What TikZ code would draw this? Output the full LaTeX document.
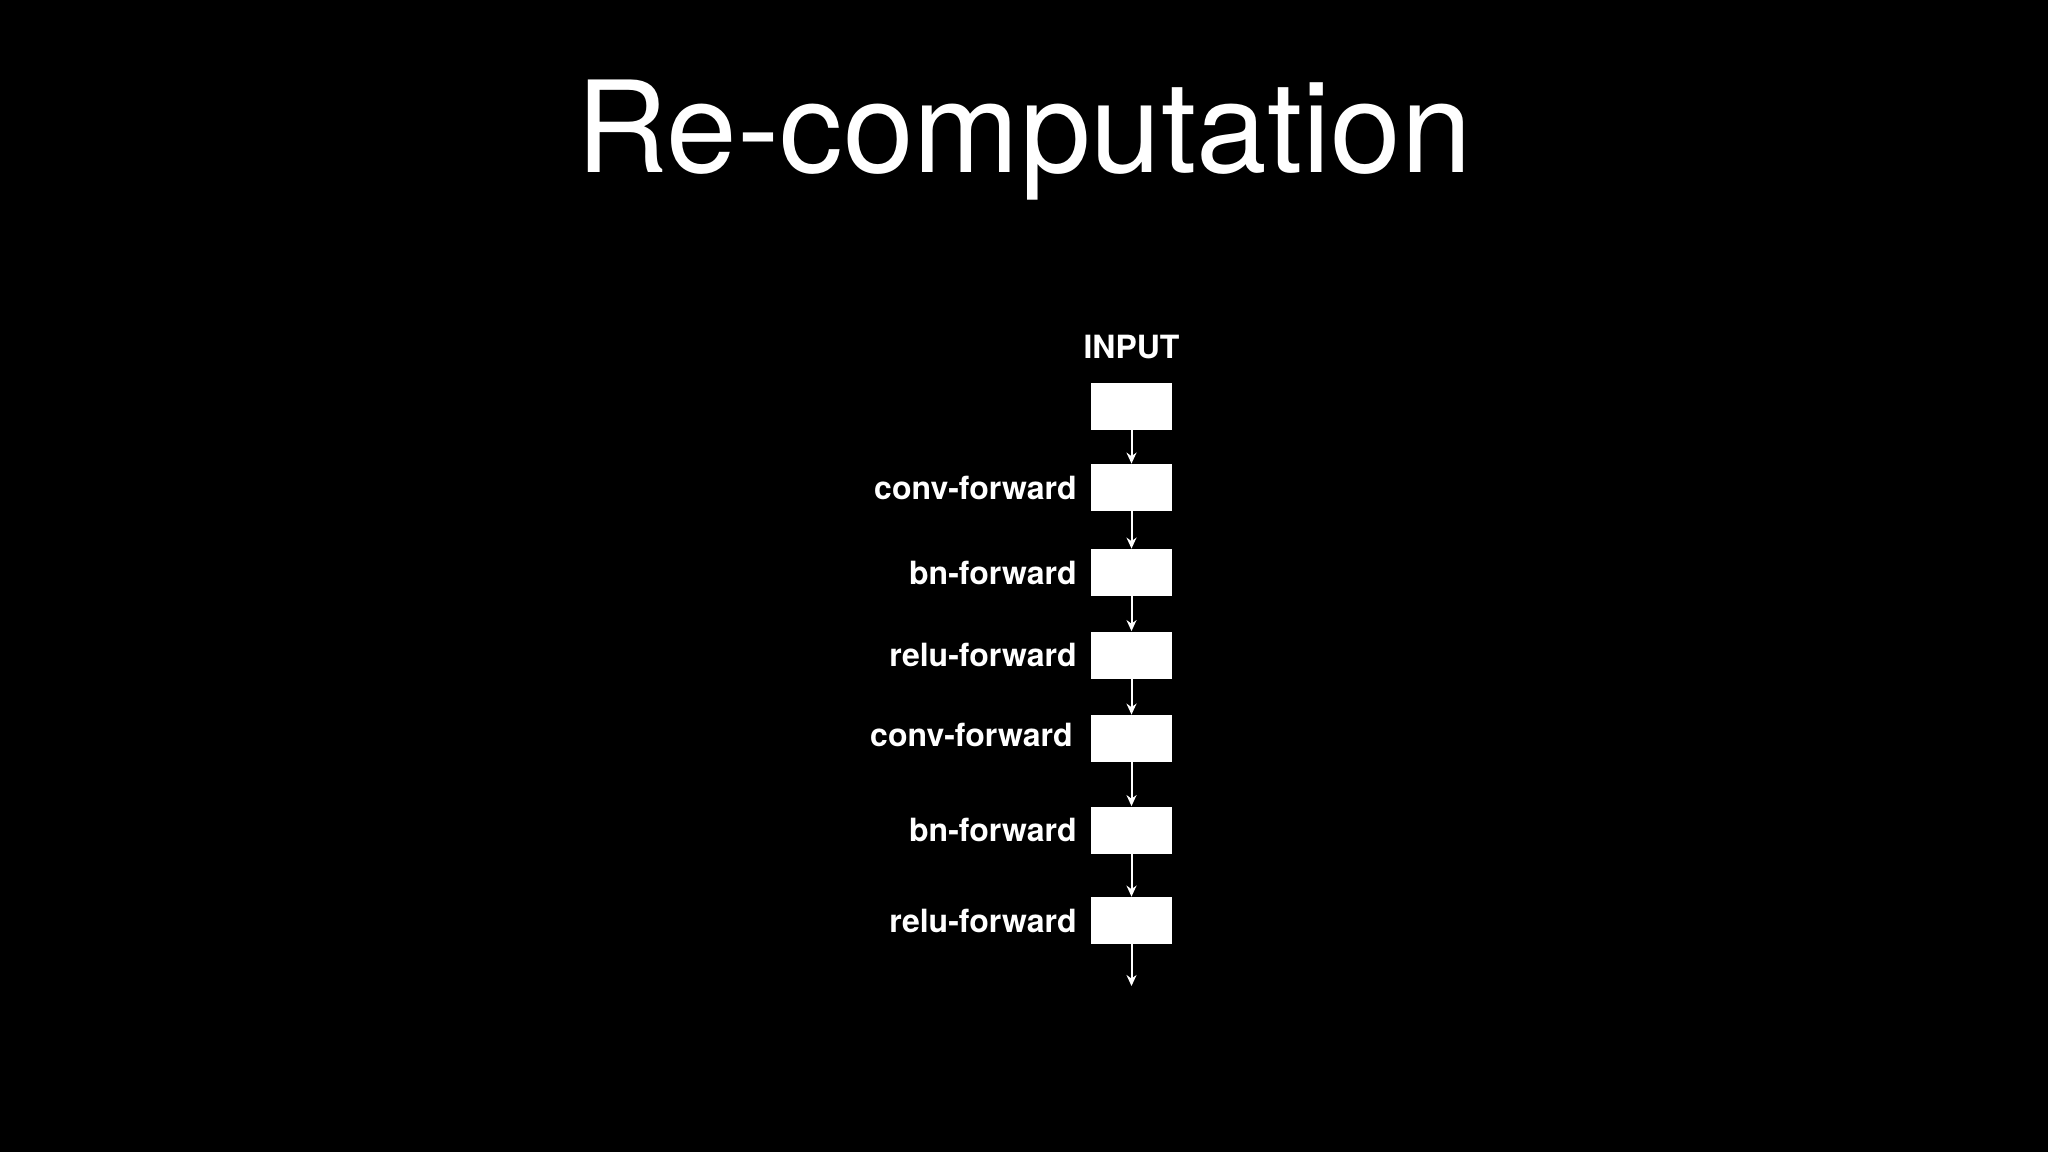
\documentclass[tikz,border=0pt]{standalone}
\usepackage{fontspec}
\setmainfont{TeX Gyre Heros}
\usetikzlibrary{arrows.meta}
\begin{document}
\begin{tikzpicture}[x=0.5pt,y=-0.5pt,
  layer/.style={fill=white,minimum width=40.5pt,minimum height=23.5pt,inner sep=0pt},
  lbl/.style={text=white,font=\bfseries\fontsize{16}{19}\selectfont,inner sep=0pt},
  flow/.style={draw=white,line width=1pt,-{Stealth[length=5.5pt,width=5pt]}}]
\fill[black] (0,0) rectangle (2048,1152);
\useasboundingbox (0,0) rectangle (2048,1152);

% title
\node[text=white,font=\fontsize{63.5}{70}\selectfont,anchor=base,inner sep=0pt] (title) at (1024,172) {Re-computation};

% input and layer stack
\node[lbl,anchor=base] (input) at (1131.5,358) {INPUT};
\node[layer] (b0) at (1131.5,406.5) {};
\foreach \i/\y/\lx/\ly/\t in {1/487.5/1077/487.5/conv-forward,2/572.5/1077/572.5/bn-forward,
                              3/655/1077/655/relu-forward,4/738.5/1073/735/conv-forward,
                              5/830/1077/830/bn-forward,6/920.5/1077/920.5/relu-forward} {
  \node[layer] (b\i) at (1131.5,\y) {};
  \node[lbl,anchor=east] (l\i) at (\lx,\ly) {\t};
}

% connectors
\foreach \i [evaluate=\i as \j using int(\i-1)] in {1,...,6}
  \draw[flow] (b\j) -- (b\i);
\coordinate (out) at (1131.5,986);
\draw[flow] (b6) -- (out);
\end{tikzpicture}
\end{document}
